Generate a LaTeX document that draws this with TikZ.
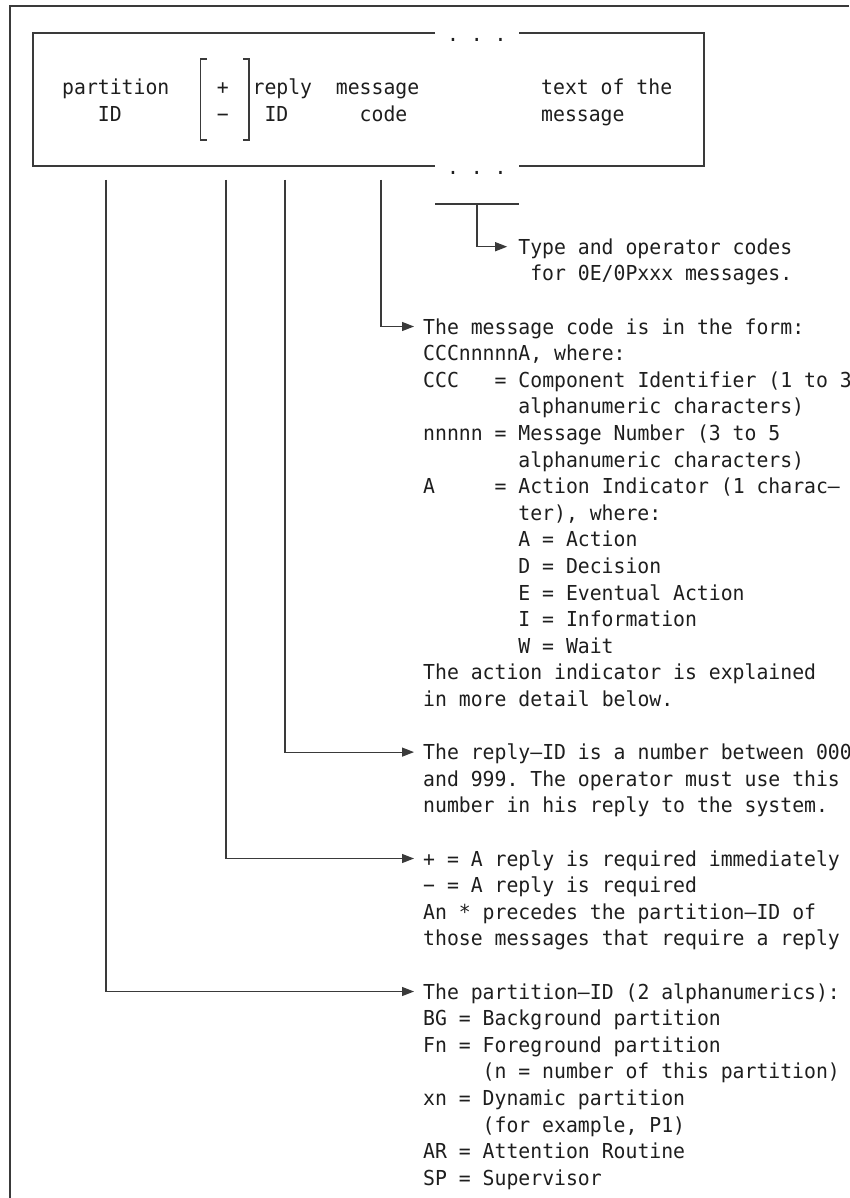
\documentclass[tikz,border=0pt]{standalone}
\usepackage{fontspec}
\newfontfamily\monofnt[FakeStretch=0.96]{DejaVu Sans Mono}
\usetikzlibrary{arrows.meta}
\definecolor{ink}{HTML}{1E1E1E}
\definecolor{rulecol}{HTML}{3A3A3A}
\newcommand\msgfont{\monofnt\fontsize{20.6}{26.6}\selectfont\frenchspacing}
\newcommand\bl[1]{334+26.6*(#1)}
\begin{document}
\begin{tikzpicture}[x=1pt,y=-1pt,
  ln/.style={anchor=base west, inner sep=0pt, text height=15pt, text depth=0pt, font=\msgfont, text=ink},
  wire/.style={draw=rulecol, line width=1.2pt},
  conn/.style={wire, -{Triangle[length=12pt,width=9pt]}},
]
\pgfmathsetmacro\cellw{11.9}
\pgfmathsetmacro\tx{423}
\pgfmathsetmacro\bx{62}
\useasboundingbox (0,0) rectangle (849,1198);
\clip (0,0) rectangle (849,1198);
\fill[white] (0,0) rectangle (849,1198);

% outer frame (open on right and bottom)
\coordinate (oNE) at (849,6);
\coordinate (oNW) at (10,6);
\coordinate (oSW) at (10,1198);
\draw[wire] (oNE) -- (oNW) -- (oSW);

% message box with gaps for the dots
\coordinate (bNW) at (33,33);
\coordinate (bNE) at (704,33);
\coordinate (bSE) at (704,166);
\coordinate (bSW) at (33,166);
\coordinate (gTL) at (435,33);
\coordinate (gTR) at (519,33);
\coordinate (gBL) at (435,166);
\coordinate (gBR) at (519,166);
\draw[wire] (gTL) -- (bNW) -- (bSW) -- (gBL);
\draw[wire] (gTR) -- (bNE) -- (bSE) -- (gBR);

\node[ln] (dtop) at ({\tx+2*\cellw},41.4) {.\ .\ .};
\node[ln] (dbot) at ({\tx+2*\cellw},174.4) {.\ .\ .};

% brackets
\draw[wire] (207,59) -- (200.7,59) -- (200.7,140) -- (207,140);
\draw[wire] (243,59) -- (249,59) -- (249,140) -- (243,140);

% box texts
\node[ln] (bpart)  at (\bx,{\bl{-9}}) {partition};
\node[ln] (bpid)   at ({\bx+3*\cellw},{\bl{-8}}) {ID};
\node[ln] (bplus)  at ({\bx+13*\cellw},{\bl{-9}}) {+};
\node[ln] (bminus) at ({\bx+13*\cellw},{\bl{-8}}) {−};
\node[ln] (breply) at ({\bx+16*\cellw},{\bl{-9}}) {reply};
\node[ln] (brid)   at ({\bx+17*\cellw},{\bl{-8}}) {ID};
\node[ln] (bmsg)   at ({\bx+23*\cellw},{\bl{-9}}) {message};
\node[ln] (bcode)  at ({\bx+25*\cellw},{\bl{-8}}) {code};
\node[ln] (btext)  at (541,{\bl{-9}}) {text of the};
\node[ln] (btmsg)  at (541,{\bl{-8}}) {message};

% type / operator codes
\node[ln] (t0) at ({\tx+8*\cellw},{\bl{-3}}) {Type and operator codes};
\node[ln] (t1) at ({\tx+9*\cellw},{\bl{-2}}) {for 0E/0Pxxx messages.};

% message code block
\node[ln] (m0)  at (\tx,{\bl{0}}) {The message code is in the form:};
\node[ln] (m1)  at (\tx,{\bl{1}}) {CCCnnnnnA, where:};
\node[ln] (m2)  at (\tx,{\bl{2}}) {CCC\ \ \ = Component Identifier (1 to 3};
\node[ln] (m3)  at ({\tx+8*\cellw},{\bl{3}}) {alphanumeric characters)};
\node[ln] (m4)  at (\tx,{\bl{4}}) {nnnnn = Message Number (3 to 5};
\node[ln] (m5)  at ({\tx+8*\cellw},{\bl{5}}) {alphanumeric characters)};
\node[ln] (m6)  at (\tx,{\bl{6}}) {A\ \ \ \ \ = Action Indicator (1 charac—};
\node[ln] (m7)  at ({\tx+8*\cellw},{\bl{7}}) {ter), where:};
\node[ln] (m8)  at ({\tx+8*\cellw},{\bl{8}}) {A = Action};
\node[ln] (m9)  at ({\tx+8*\cellw},{\bl{9}}) {D = Decision};
\node[ln] (m10) at ({\tx+8*\cellw},{\bl{10}}) {E = Eventual Action};
\node[ln] (m11) at ({\tx+8*\cellw},{\bl{11}}) {I = Information};
\node[ln] (m12) at ({\tx+8*\cellw},{\bl{12}}) {W = Wait};
\node[ln] (m13) at (\tx,{\bl{13}}) {The action indicator is explained};
\node[ln] (m14) at (\tx,{\bl{14}}) {in more detail below.};

% reply-ID block
\node[ln] (r0) at (\tx,{\bl{16}}) {The reply—ID is a number between 000};
\node[ln] (r1) at (\tx,{\bl{17}}) {and 999. The operator must use this};
\node[ln] (r2) at (\tx,{\bl{18}}) {number in his reply to the system.};

% +/- block
\node[ln] (q0) at (\tx,{\bl{20}}) {+ = A reply is required immediately};
\node[ln] (q1) at (\tx,{\bl{21}}) {− = A reply is required};
\node[ln] (q2) at (\tx,{\bl{22}}) {An * precedes the partition—ID of};
\node[ln] (q3) at (\tx,{\bl{23}}) {those messages that require a reply};

% partition-ID block
\node[ln] (p0) at (\tx,{\bl{25}}) {The partition—ID (2 alphanumerics):};
\node[ln] (p1) at (\tx,{\bl{26}}) {BG = Background partition};
\node[ln] (p2) at (\tx,{\bl{27}}) {Fn = Foreground partition};
\node[ln] (p3) at ({\tx+5*\cellw},{\bl{28}}) {(n = number of this partition)};
\node[ln] (p4) at (\tx,{\bl{29}}) {xn = Dynamic partition};
\node[ln] (p5) at ({\tx+5*\cellw},{\bl{30}}) {(for example, P1)};
\node[ln] (p6) at (\tx,{\bl{31}}) {AR = Attention Routine};
\node[ln] (p7) at (\tx,{\bl{32}}) {SP = Supervisor};

% connectors
\coordinate (v1) at (106,180);
\coordinate (v2) at (226,180);
\coordinate (v3) at (285,180);
\coordinate (v4) at (381,180);
\coordinate (s1) at (435,204);
\coordinate (s2) at (519,204);
\coordinate (s0) at (477,204);

\draw[wire] (s1) -- (s2);
\draw[conn] (s0) |- ([xshift=-11pt]t0.west);
\draw[conn] (v4) |- ([xshift=-9pt]m0.west);
\draw[conn] (v3) |- ([xshift=-9pt]r0.west);
\draw[conn] (v2) |- ([xshift=-9pt]q0.west);
\draw[conn] (v1) |- ([xshift=-9pt]p0.west);
\end{tikzpicture}
\end{document}
